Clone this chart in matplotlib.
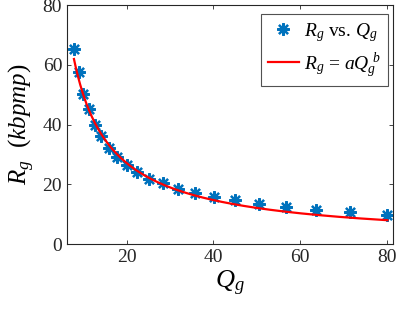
import numpy as np
import matplotlib
matplotlib.use("Agg")
import matplotlib.pyplot as plt

Q = [7.8, 9.0, 10.0, 11.3, 12.6, 14.1, 15.9, 17.8, 20.0, 22.4, 25.2,
     28.4, 31.9, 35.8, 40.1, 45.0, 50.6, 56.8, 63.7, 71.6, 80.2]
R = [65.3, 57.6, 50.2, 45.3, 40.0, 36.1, 32.3, 29.0, 26.4, 24.1, 21.8,
     20.3, 18.4, 17.1, 15.8, 14.6, 13.3, 12.3, 11.4, 10.6, 9.8]
fit_a = 376.0
fit_b = -0.878

plt.rcParams['font.family'] = ['Liberation Serif', 'DejaVu Serif']
plt.rcParams['mathtext.fontset'] = 'custom'
plt.rcParams['mathtext.rm'] = 'Liberation Serif'
plt.rcParams['mathtext.it'] = 'Liberation Serif:italic'

fig = plt.figure(figsize=(3.99, 3.15), dpi=100)
ax = fig.add_axes([0.168, 0.225, 0.817, 0.759])

qq = np.linspace(Q[0], Q[-1], 300)
ax.plot(Q, R, linestyle='none', marker=(8, 2, 0), markersize=9,
        markeredgewidth=1.6, color='#0072BD', label=r'$R_g$ vs. $Q_g$')
ax.plot(qq, fit_a * qq ** fit_b, color='#FF0000', linewidth=1.6,
        label=r'$R_g$ = $aQ_g^{\ b}$')

ax.set_xlim(6.2, 81.5)
ax.set_ylim(0, 80)
ax.set_xticks([20, 40, 60, 80])
ax.set_yticks([0, 20, 40, 60, 80])
for s in ax.spines.values():
    s.set_color('#262626')
    s.set_linewidth(0.8)
ax.tick_params(direction='in', top=True, right=True, labelsize=14,
               colors='#262626', length=3, width=0.6)
ax.set_xlabel(r'$Q_g$', fontsize=19, labelpad=2)
ax.set_ylabel(r'$R_g$  $(kbpmp)$', fontsize=18, labelpad=4)

leg = ax.legend(loc='upper right', bbox_to_anchor=(0.985, 0.962),
                fontsize=14, frameon=True, fancybox=False,
                edgecolor='#262626', handlelength=1.6, borderaxespad=0.0,
                handletextpad=0.3, borderpad=0.35, labelspacing=0.35)
leg.get_frame().set_linewidth(0.8)

fig.savefig('out.png', dpi=100)
